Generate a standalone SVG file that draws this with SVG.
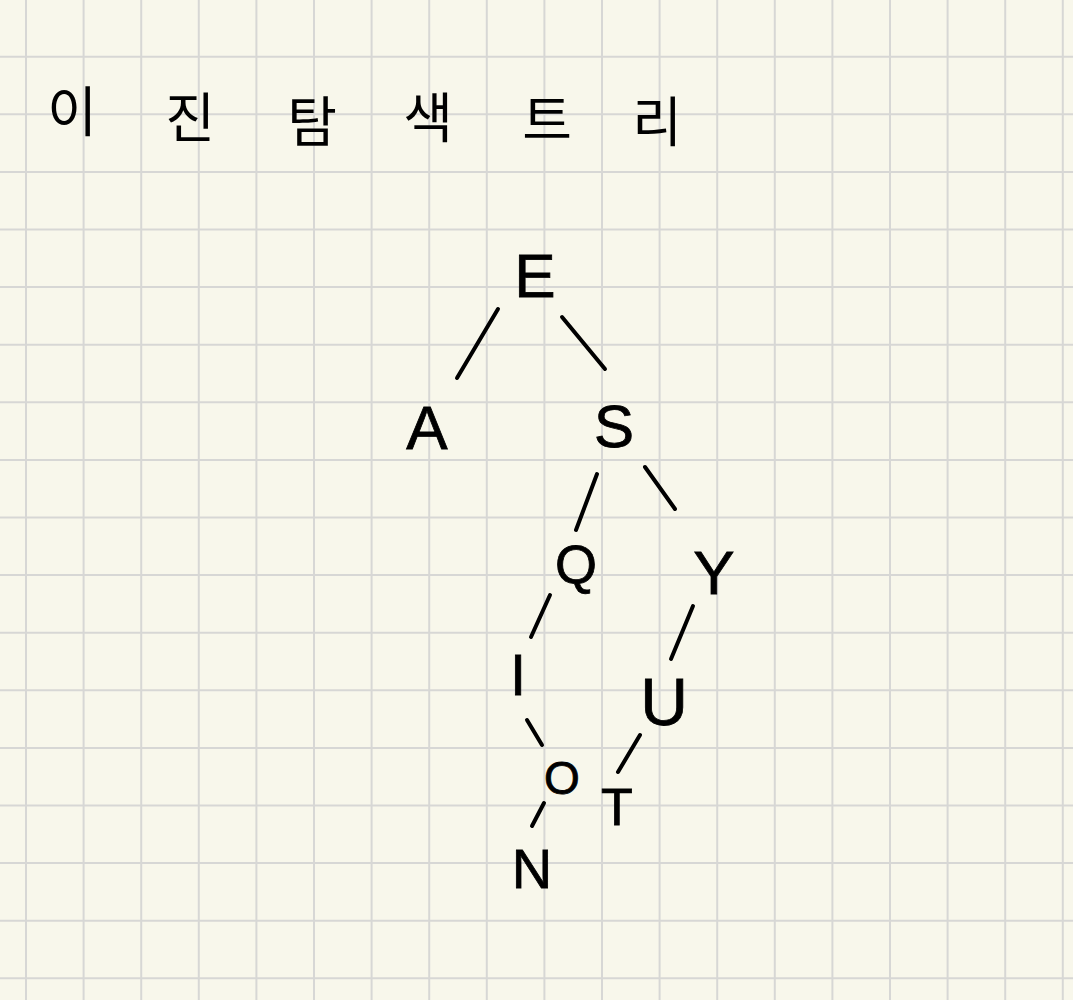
<svg xmlns="http://www.w3.org/2000/svg" width="1073" height="1000" viewBox="0 0 1073 1000">
<style>
.grid{stroke:#d7d7d5;stroke-width:2;fill:none}
.edge{stroke:#000;stroke-width:4;stroke-linecap:round;fill:none}
.lbl{font-family:"Liberation Sans","DejaVu Sans",sans-serif;fill:#000;stroke:#000;stroke-width:0.8;text-anchor:middle}
.title{font-family:"Noto Sans CJK KR","Noto Sans",sans-serif;font-size:54px;fill:#000;text-anchor:middle}
</style>
<rect width="1073" height="1000" fill="#f8f7eb"/>
<g id="grid" class="grid">
<path d="M26 0V1000M83.6 0V1000M141.2 0V1000M198.8 0V1000M256.4 0V1000M314 0V1000M371.6 0V1000M429.2 0V1000M486.8 0V1000M544.4 0V1000M602 0V1000M659.6 0V1000M717.2 0V1000M774.8 0V1000M832.4 0V1000M890 0V1000M947.6 0V1000M1005.2 0V1000M1062.8 0V1000"/>
<path d="M0 56.7H1073M0 114.3H1073M0 171.9H1073M0 229.5H1073M0 287.1H1073M0 344.7H1073M0 402.3H1073M0 459.9H1073M0 517.5H1073M0 575.1H1073M0 632.7H1073M0 690.3H1073M0 747.9H1073M0 805.5H1073M0 863.1H1073M0 920.7H1073M0 978.3H1073"/>
</g>
<g id="title">
<text class="title" x="72" y="132">이</text>
<text class="title" x="190" y="138">진</text>
<text class="title" x="312" y="142">탐</text>
<text class="title" x="428" y="138">색</text>
<text class="title" x="547" y="140">트</text>
<text class="title" x="657" y="142">리</text>
</g>
<g id="connectors" class="edge">
<line x1="498" y1="309" x2="457" y2="378"/>
<line x1="562" y1="317" x2="605" y2="369"/>
<line x1="597" y1="474" x2="576" y2="530"/>
<line x1="645" y1="467" x2="675" y2="509"/>
<line x1="550" y1="595" x2="531" y2="637"/>
<line x1="693" y1="606" x2="671" y2="659"/>
<line x1="527" y1="720" x2="542" y2="745"/>
<line x1="640" y1="735" x2="618" y2="772"/>
<line x1="544" y1="803" x2="532" y2="826"/>
</g>
<g id="node-E"><text class="lbl" x="535" y="297" font-size="62">E</text></g>
<g id="node-A"><text class="lbl" x="427" y="449" font-size="62">A</text></g>
<g id="node-S"><text class="lbl" x="614" y="447" font-size="60">S</text></g>
<g id="node-Q"><text class="lbl" x="576" y="583" font-size="54">Q</text></g>
<g id="node-Y"><text class="lbl" x="714" y="594" font-size="62">Y</text></g>
<g id="node-I"><text class="lbl" x="518" y="695" font-size="58">I</text></g>
<g id="node-U"><text class="lbl" x="664" y="725" font-size="66">U</text></g>
<g id="node-O"><text class="lbl" x="562" y="794" font-size="46">O</text></g>
<g id="node-T"><text class="lbl" x="617" y="825" font-size="52">T</text></g>
<g id="node-N"><text class="lbl" x="532" y="888" font-size="56">N</text></g>
</svg>
